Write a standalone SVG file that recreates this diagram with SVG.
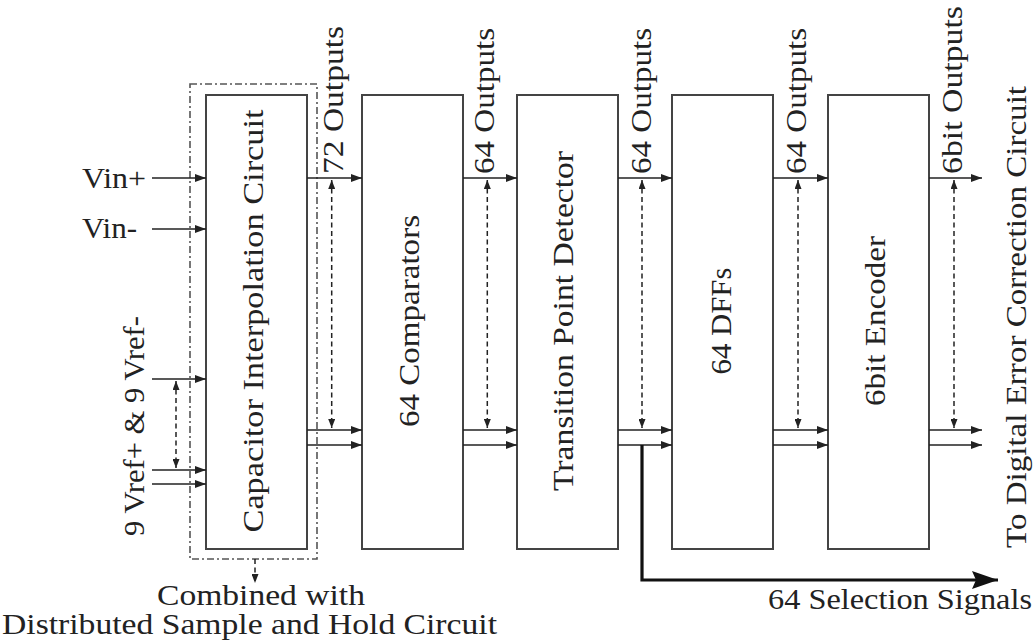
<svg xmlns="http://www.w3.org/2000/svg" width="1036" height="644" viewBox="0 0 1036 644">
<defs>
<style>
.box{fill:#fff;stroke:#444;stroke-width:2}
.ln{fill:none;stroke:#222;stroke-width:1.6}
.dsh{fill:none;stroke:#222;stroke-width:1.5;stroke-dasharray:5 3.5}
.dd{fill:none;stroke:#555;stroke-width:1.6;stroke-dasharray:7 3 2 3}
.sel{fill:none;stroke:#111;stroke-width:3.2}
text{font-family:"Liberation Serif","Times New Roman",serif;font-size:30px;fill:#222}
</style>
<marker id="ah" viewBox="0 0 11 8" refX="11" refY="4" markerWidth="11" markerHeight="8" markerUnits="userSpaceOnUse" orient="auto-start-reverse"><path d="M0,0 L11,4 L0,8 z" fill="#222"/></marker>
<marker id="as" viewBox="0 0 9 7" refX="9" refY="3.5" markerWidth="9" markerHeight="7" markerUnits="userSpaceOnUse" orient="auto-start-reverse"><path d="M0,0 L9,3.5 L0,7 z" fill="#222"/></marker>
<marker id="big" viewBox="0 0 26 18" refX="26" refY="9" markerWidth="26" markerHeight="18" markerUnits="userSpaceOnUse" orient="auto"><path d="M0,0 L26,9 L0,18 L4,9 z" fill="#111"/></marker>
</defs>
<rect width="1036" height="644" fill="#fff"/>

<g id="sample-hold-frame">
<rect class="dd" x="190" y="84" width="127" height="475"/>
</g>

<g id="node-cap-interp">
<rect class="box" x="206" y="95" width="101" height="454"/>
<text transform="translate(263,321) rotate(-90)" text-anchor="middle" textLength="423" lengthAdjust="spacingAndGlyphs">Capacitor Interpolation Circuit</text>
</g>
<g id="node-comparators">
<rect class="box" x="362" y="95" width="101" height="454"/>
<text transform="translate(419,321) rotate(-90)" text-anchor="middle" textLength="212" lengthAdjust="spacingAndGlyphs">64 Comparators</text>
</g>
<g id="node-tpd">
<rect class="box" x="517" y="95" width="101" height="454"/>
<text transform="translate(573,321) rotate(-90)" text-anchor="middle" textLength="340" lengthAdjust="spacingAndGlyphs">Transition Point Detector</text>
</g>
<g id="node-dffs">
<rect class="box" x="672" y="95" width="101" height="454"/>
<text transform="translate(731,321) rotate(-90)" text-anchor="middle" textLength="107" lengthAdjust="spacingAndGlyphs">64 DFFs</text>
</g>
<g id="node-encoder">
<rect class="box" x="828" y="95" width="101" height="454"/>
<text transform="translate(885,321) rotate(-90)" text-anchor="middle" textLength="170" lengthAdjust="spacingAndGlyphs">6bit Encoder</text>
</g>

<g id="connectors">
<path class="ln" d="M152,178 H206" marker-end="url(#ah)"/>
<path class="ln" d="M152,229 H206" marker-end="url(#ah)"/>
<path class="ln" d="M152,379 H206" marker-end="url(#ah)"/>
<path class="ln" d="M152,470 H206" marker-end="url(#ah)"/>
<path class="ln" d="M152,484 H206" marker-end="url(#ah)"/>
<path class="dsh" d="M176,381 V468" marker-start="url(#as)" marker-end="url(#as)"/>

<path class="ln" d="M307,178 H362" marker-end="url(#ah)"/>
<path class="ln" d="M307,430 H362" marker-end="url(#ah)"/>
<path class="ln" d="M307,445 H362" marker-end="url(#ah)"/>
<path class="dsh" d="M331.7,180 V428" marker-start="url(#as)" marker-end="url(#as)"/>

<path class="ln" d="M463,178 H517" marker-end="url(#ah)"/>
<path class="ln" d="M463,430 H517" marker-end="url(#ah)"/>
<path class="ln" d="M463,445 H517" marker-end="url(#ah)"/>
<path class="dsh" d="M487.3,180 V428" marker-start="url(#as)" marker-end="url(#as)"/>

<path class="ln" d="M618,178 H672" marker-end="url(#ah)"/>
<path class="ln" d="M618,430 H672" marker-end="url(#ah)"/>
<path class="ln" d="M618,445 H672" marker-end="url(#ah)"/>
<path class="dsh" d="M642,180 V428" marker-start="url(#as)" marker-end="url(#as)"/>

<path class="ln" d="M773,178 H828" marker-end="url(#ah)"/>
<path class="ln" d="M773,430 H828" marker-end="url(#ah)"/>
<path class="ln" d="M773,445 H828" marker-end="url(#ah)"/>
<path class="dsh" d="M798,180 V428" marker-start="url(#as)" marker-end="url(#as)"/>

<path class="ln" d="M929,178 H982" marker-end="url(#ah)"/>
<path class="ln" d="M929,430 H982" marker-end="url(#ah)"/>
<path class="ln" d="M929,445 H982" marker-end="url(#ah)"/>
<path class="dsh" d="M954,180 V428" marker-start="url(#as)" marker-end="url(#as)"/>

<path class="sel" d="M642,445 V580 H998" marker-end="url(#big)"/>
<path class="dsh" d="M255,559 V583" marker-end="url(#as)"/>
</g>

<g id="labels">
<text x="82" y="188" textLength="64" lengthAdjust="spacingAndGlyphs">Vin+</text>
<text x="82" y="238" textLength="55" lengthAdjust="spacingAndGlyphs">Vin-</text>
<text transform="translate(144,536) rotate(-90)" textLength="220" lengthAdjust="spacingAndGlyphs">9 Vref+ &amp; 9 Vref-</text>
<text transform="translate(343,174) rotate(-90)" textLength="148" lengthAdjust="spacingAndGlyphs">72 Outputs</text>
<text transform="translate(494,174) rotate(-90)" textLength="146" lengthAdjust="spacingAndGlyphs">64 Outputs</text>
<text transform="translate(651,174) rotate(-90)" textLength="146" lengthAdjust="spacingAndGlyphs">64 Outputs</text>
<text transform="translate(806,174) rotate(-90)" textLength="146" lengthAdjust="spacingAndGlyphs">64 Outputs</text>
<text transform="translate(962,174) rotate(-90)" textLength="168" lengthAdjust="spacingAndGlyphs">6bit Outputs</text>
<text transform="translate(1026,548) rotate(-90)" textLength="462" lengthAdjust="spacingAndGlyphs">To Digital Error Correction Circuit</text>
<text x="157" y="605" textLength="208" lengthAdjust="spacingAndGlyphs">Combined with</text>
<text x="2" y="634" textLength="495" lengthAdjust="spacingAndGlyphs">Distributed Sample and Hold Circuit</text>
<text x="768" y="609" textLength="264" lengthAdjust="spacingAndGlyphs">64 Selection Signals</text>
</g>
</svg>
